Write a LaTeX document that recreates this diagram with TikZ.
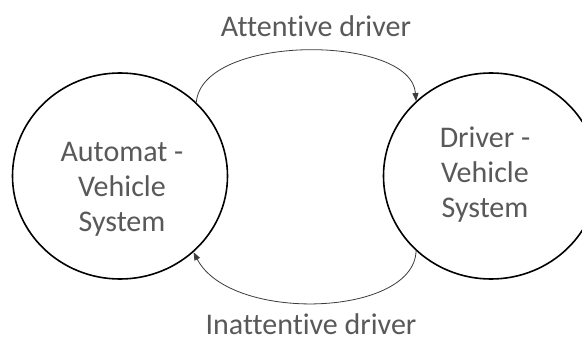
\documentclass[tikz,border=0pt]{standalone}
\usepackage{fontspec}
\setmainfont{Carlito}[Ligatures={NoCommon},RawFeature={-liga;-clig}]
\usetikzlibrary{shapes.geometric,arrows.meta}
\definecolor{txtgray}{RGB}{89,89,89}
\definecolor{arrgray}{RGB}{60,60,60}
\tikzset{
  statecirc/.style={draw=black, line width=1.6pt, ellipse, inner sep=0pt,
    minimum width=215pt, minimum height=206pt},
  statetext/.style={text=txtgray, font=\fontsize{30}{35}\selectfont, align=center, inner sep=0pt},
  edgelabel/.style={text=txtgray, font=\fontsize{30}{35}\selectfont, inner sep=0pt},
  transition/.style={draw=arrgray, line width=0.8pt, -{Triangle[length=8pt,width=6pt]}}
}
\begin{document}
\begin{tikzpicture}[x=1pt,y=-1pt]
\useasboundingbox[fill=white] (0,0) rectangle (582,342);
\node[statecirc] (L) at (120,176) {};
\node[statecirc] (R) at (491,176) {};
\node[statetext] (Ltxt) at (122,189) {Automat -\\Vehicle\\System};
\node[statetext] (Rtxt) at (485,175) {Driver -\\Vehicle\\System};
\node[edgelabel] (top) at (316,26) {Attentive driver};
\node[edgelabel] (bot) at (311,324) {Inattentive driver};
\draw[transition] (L.44) .. controls +(6,-69) and +(-5,-67) .. (R.135);
\draw[transition] (R.225) .. controls +(-2,66) and +(37,71) .. (L.-46);
\end{tikzpicture}
\end{document}
